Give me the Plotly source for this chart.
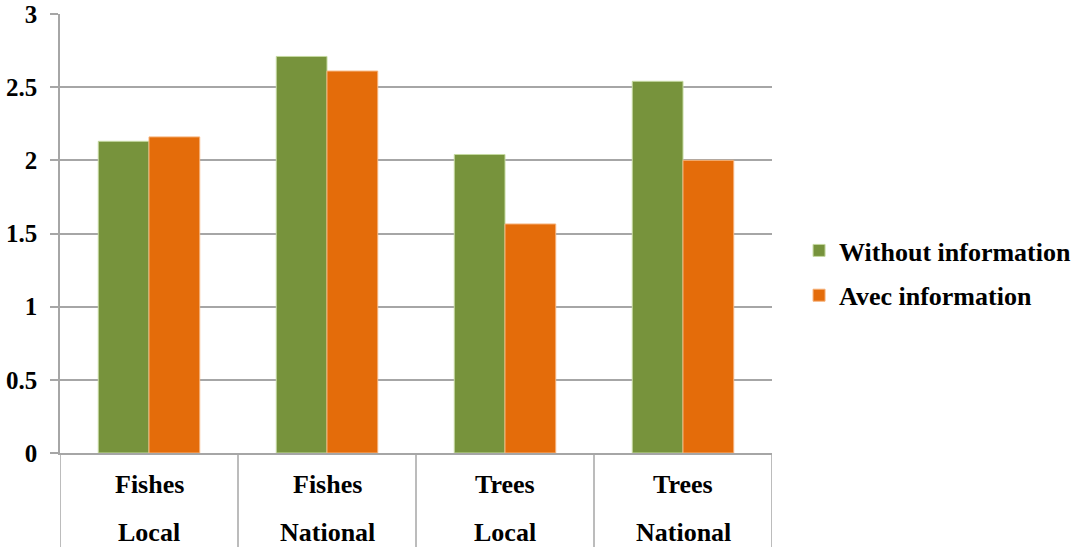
import plotly.graph_objects as go

# Chart data
groups = ["Fishes", "Fishes", "Trees", "Trees"]
scopes = ["Local", "National", "Local", "National"]
without_info = [2.13, 2.71, 2.04, 2.54]
avec_info = [2.16, 2.61, 1.565, 2.0]
y_ticks = [0, 0.5, 1, 1.5, 2, 2.5, 3]
y_tick_labels = ["0", "0.5", "1", "1.5", "2", "2.5", "3"]

cats = [f"{g} {s}" for g, s in zip(groups, scopes)]

FONT = "Liberation Serif"
GRID = "#a6a6a6"

fig = go.Figure()
fig.add_trace(go.Bar(
    x=cats, y=without_info, name="Without information",
    marker=dict(color="#77933C", line=dict(color="#c5d9a0", width=1)),
    legendgroup="a",
))
fig.add_trace(go.Bar(
    x=cats, y=avec_info, name="Avec information",
    marker=dict(color="#E46C0A", line=dict(color="#f6b27a", width=1)),
    legendgroup="b",
))

# two-line category labels under each group
label_font = dict(family=FONT, size=26, color="black", weight="bold")
annotations = []
for c, g, s in zip(cats, groups, scopes):
    annotations.append(dict(x=c, y=0, xref="x", yref="paper", text=g, showarrow=False,
                            yanchor="middle", yshift=-31, font=label_font))
    annotations.append(dict(x=c, y=0, xref="x", yref="paper", text=s, showarrow=False,
                            yanchor="middle", yshift=-79, font=label_font))

# vertical separators between category cells
shapes = []
for i in range(len(cats) + 1):
    shapes.append(dict(type="line", xref="x", yref="paper", x0=i - 0.5, x1=i - 0.5,
                       y0=0, y1=-0.25, line=dict(color=GRID, width=1.5)))

fig.update_layout(
    width=1072, height=547,
    margin=dict(l=60, r=300, t=14, b=94, autoexpand=False),
    plot_bgcolor="white", paper_bgcolor="white",
    barmode="group", bargap=0.43, bargroupgap=0,
    showlegend=True,
    legend=dict(x=1.038, y=0.41, xanchor="left", yanchor="middle",
                traceorder="grouped", tracegroupgap=8,
                font=dict(family=FONT, size=26, color="black", weight="bold")),
    annotations=annotations,
    shapes=shapes,
)
fig.update_xaxes(showticklabels=False, showline=True, linecolor=GRID, linewidth=1.5,
                 showgrid=False, ticks="", range=[-0.5, 3.5], automargin=False)
fig.update_yaxes(range=[0, 3], tickvals=y_ticks, ticktext=y_tick_labels,
                 showgrid=True, gridcolor=GRID, gridwidth=1.5,
                 showline=True, linecolor=GRID, linewidth=1.5,
                 ticks="outside", ticklen=8, tickcolor=GRID, tickwidth=1.5,
                 ticklabelstandoff=8, zeroline=False, automargin=False,
                 tickfont=dict(family=FONT, size=25, color="black", weight="bold"))

fig.write_html("out.html")
